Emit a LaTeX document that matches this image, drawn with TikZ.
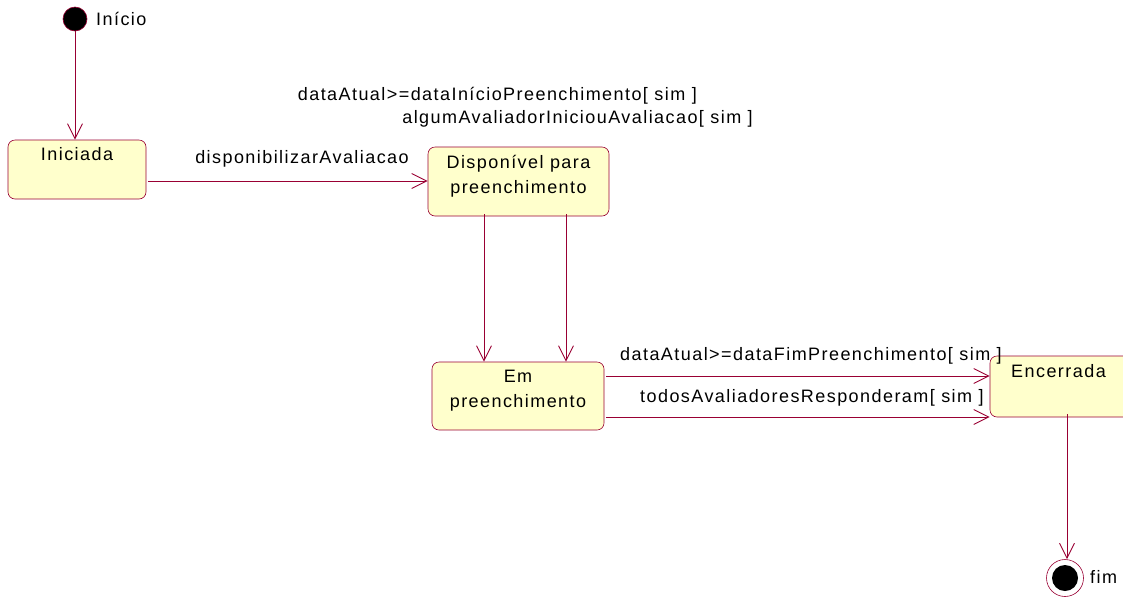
\documentclass[tikz,border=0pt]{standalone}
\usepackage{fontspec}
\setmainfont{Liberation Sans}[LetterSpace=8]
\usetikzlibrary{arrows.meta}
\definecolor{edge}{HTML}{990033}
\definecolor{boxfill}{HTML}{FFFFCC}
\tikzset{
  state/.style={draw=edge, fill=boxfill, rounded corners=7pt, line width=0.6pt},
  lbl/.style={font=\fontsize{18}{20}\selectfont, inner sep=0pt, anchor=base},
  trans/.style={draw=edge, line width=0.9pt, -{Straight Barb[length=15pt,width=15pt,line width=0.9pt]}},
}
\begin{document}
\begin{tikzpicture}[x=1pt,y=-1pt]
\useasboundingbox (0,0) rectangle (1123,598);
\clip (0,0) rectangle (1123,598);
% start
\node[circle, fill=black, draw=edge, line width=0.6pt, minimum size=24pt, inner sep=0pt] (start) at (75,19) {};
\node[lbl, anchor=base west] (startlbl) at (96,25) {Início};
% states
\node[state, minimum width=138pt, minimum height=59pt, inner sep=0pt] (ini) at (77,169.5) {};
\node[lbl] at (77,160) {Iniciada};
\node[state, minimum width=181pt, minimum height=69pt, inner sep=0pt] (disp) at (518.5,181.5) {};
\node[lbl] at (518.5,168) {Disponível para};
\node[lbl] at (518.5,193) {preenchimento};
\node[state, minimum width=172pt, minimum height=68pt, inner sep=0pt] (em) at (518,396) {};
\node[lbl] at (518,382) {Em};
\node[lbl] at (518,407) {preenchimento};
\node[state, minimum width=160pt, minimum height=61pt, inner sep=0pt] (enc) at (1070,386.5) {};
\node[lbl] at (1058.5,377) {Encerrada};
% final
\node[circle, draw=edge, fill=white, line width=0.6pt, minimum size=37pt, inner sep=0pt] (fin) at (1065,578) {};
\node[circle, fill=black, minimum size=26pt, inner sep=0pt] (fininner) at (1065,578) {};
\node[lbl, anchor=base west] (finlbl) at (1090,583) {fim};
% transitions
\draw[trans] (start.south) -- (ini.north -| start.south);
\draw[trans] ([xshift=2pt]ini.east |- 0,181) -- (disp.west |- 0,181);
\node[lbl] at (302,163) {disponibilizarAvaliacao};
\node[lbl, anchor=base east] at (697,100) {dataAtual>=dataInícioPreenchimento[ sim ]};
\node[lbl, anchor=base east] at (753,123) {algumAvaliadorIniciouAvaliacao[ sim ]};
\draw[trans] ([yshift=2pt]disp.south -| 484,0) -- (em.north -| 484,0);
\draw[trans] ([yshift=2pt]disp.south -| 566,0) -- (em.north -| 566,0);
\draw[trans] ([xshift=2pt]em.east |- 0,376) -- (enc.west |- 0,376);
\draw[trans] ([xshift=2pt]em.east |- 0,417) -- (enc.west |- 0,417);
\node[lbl, anchor=base west] at (620,360) {dataAtual>=dataFimPreenchimento[ sim ]};
\node[lbl, anchor=base west] at (640,402) {todosAvaliadoresResponderam[ sim ]};
\draw[trans] ([yshift=3pt]enc.south -| 1067,0) -- (fin.north -| 1067,0);
\end{tikzpicture}
\end{document}
